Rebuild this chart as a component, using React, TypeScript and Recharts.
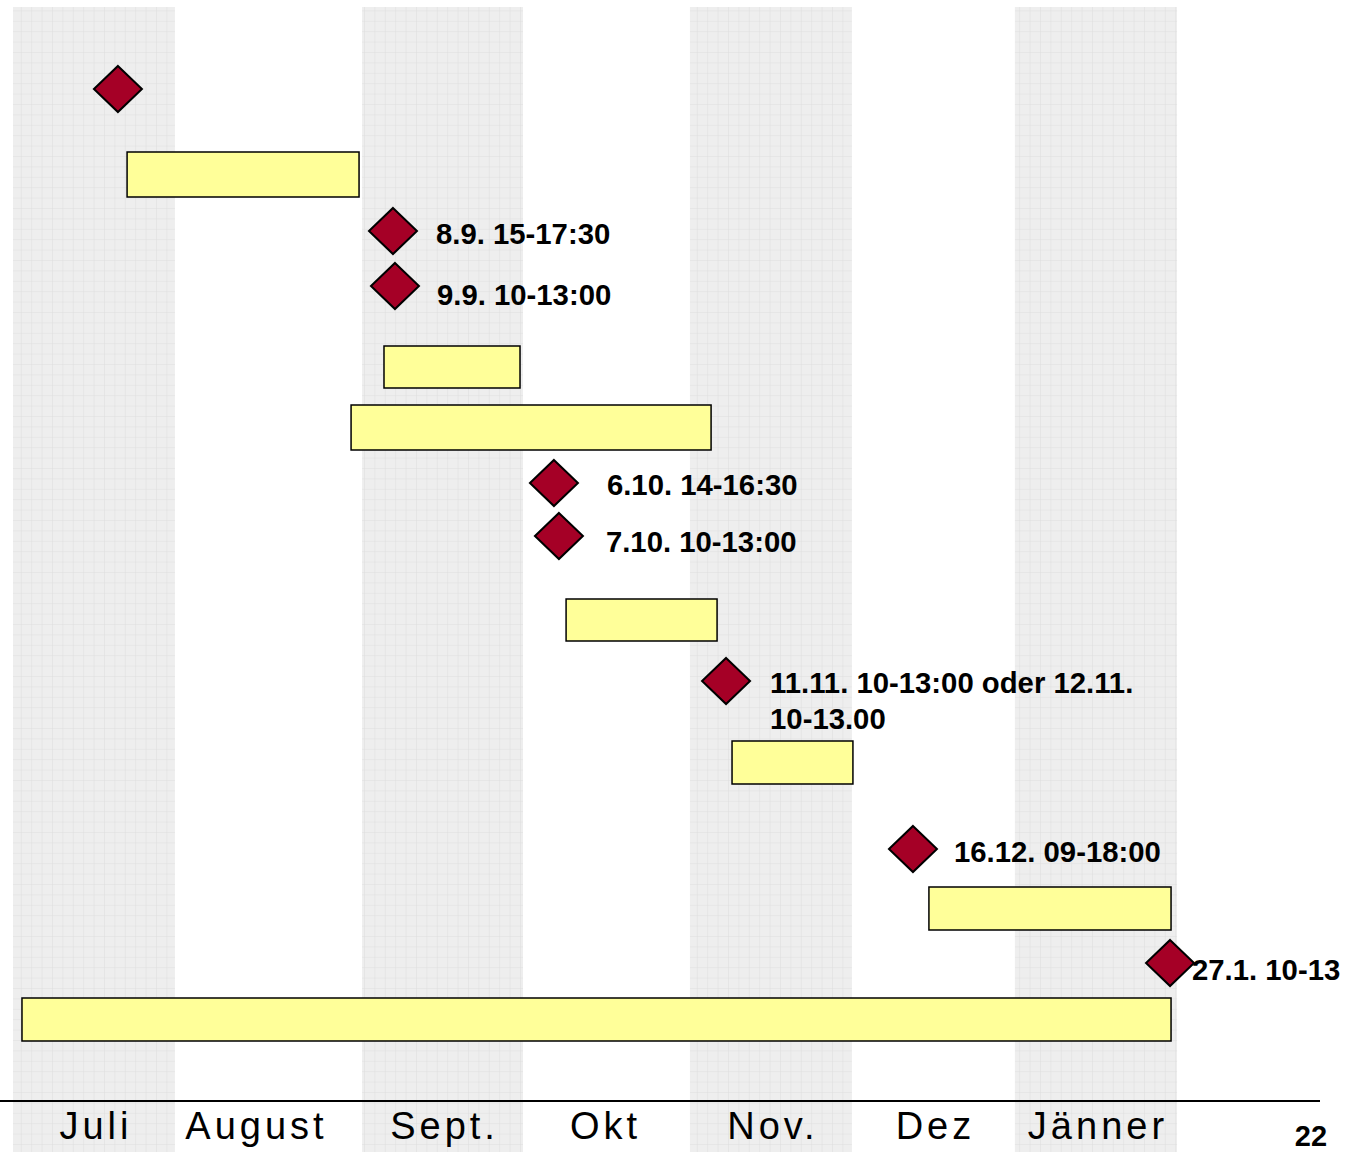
import React from "react";
import {
  ComposedChart,
  ReferenceArea,
  ReferenceLine,
  Scatter,
  XAxis,
  YAxis,
} from "recharts";

// timeline in month units (0 = start of Juli), rows on a 0..1152 track scale
const months = ["Juli", "August", "Sept.", "Okt", "Nov.", "Dez", "Jänner"];
const monthEdges = [0, 0.974, 2.099, 3.067, 4.071, 5.045, 6.025, 7.0];
const shadedMonths = [0, 2, 4, 6];

const taskStart = [0.686, 2.231, 2.033, 3.326, 4.324, 5.508, 0.054];
const taskEnd = [2.081, 3.049, 4.198, 4.234, 5.051, 6.964, 6.964];
const taskTop = [152, 346, 405, 599, 741, 887, 998];
const taskBottom = [197, 388, 450, 641, 784, 930, 1041];

const milestoneAt = [0.631, 2.285, 2.297, 3.253, 3.283, 4.288, 5.412, 6.958];
const milestoneRow = [89, 231, 286, 483, 536, 681, 849, 963];
const milestoneText = [
  [],
  ["8.9. 15-17:30"],
  ["9.9. 10-13:00"],
  ["6.10. 14-16:30"],
  ["7.10. 10-13:00"],
  ["11.11. 10-13:00 oder 12.11.", "10-13.00"],
  ["16.12. 09-18:00"],
  ["27.1. 10-13"],
];
// label placement relative to the diamond / month band (px)
const labelDx = [0, 43, 42, 53, 47, 44, 41, 22];
const labelDy = [0, 2, 8, 1, 5, 1, 2, 6];
const monthLabelDx = [0, -14, 0, -3, 0, 0, 0];

const PX_PER_MONTH = 166.29;
const X_MIN = -13 / PX_PER_MONTH;
const X_MAX = 1348 / PX_PER_MONTH;

const milestones = milestoneAt.map((x, i) => ({
  x,
  y: milestoneRow[i],
  lines: milestoneText[i],
  dx: labelDx[i],
  dy: labelDy[i],
}));

const monthLabels = months.map((name, i) => ({
  x: (monthEdges[i] + monthEdges[i + 1]) / 2,
  y: 1139,
  name,
  dx: monthLabelDx[i],
}));

const Diamond = (props: any) => {
  const { cx, cy, payload } = props;
  const w = 24;
  const h = 23;
  return (
    <g>
      <polygon
        points={`${cx},${cy - h} ${cx + w},${cy} ${cx},${cy + h} ${cx - w},${cy}`}
        fill="#a50026"
        stroke="#000"
        strokeWidth={2}
      />
      {payload.lines.map((line: string, j: number) => (
        <text
          key={j}
          x={cx + payload.dx}
          y={cy + payload.dy + 10.5 + j * 36}
          fontFamily="'Liberation Sans', Arial, sans-serif"
          fontWeight={700}
          fontSize={29.3}
          fill="#000"
        >
          {line}
        </text>
      ))}
    </g>
  );
};

const MonthLabel = (props: any) => {
  const { cx, cy, payload } = props;
  return (
    <text
      x={cx + payload.dx + 2}
      y={cy}
      textAnchor="middle"
      fontFamily="'Liberation Sans', Arial, sans-serif"
      fontSize={38}
      letterSpacing={4}
      fill="#000"
    >
      {payload.name}
    </text>
  );
};

export default function App() {
  return (
    <div style={{ position: "absolute", left: 0, top: 0, width: 1361, height: 1152, background: "#fff" }}>
      <svg width={0} height={0} style={{ position: "absolute" }}>
        <defs>
          <pattern id="monthGrid" width={10.4} height={10.4} patternUnits="userSpaceOnUse">
            <rect width={10.4} height={10.4} fill="#eeeeee" />
            <path d="M 10.4 0 L 0 0 0 10.4" fill="none" stroke="#dedede" strokeWidth={1} />
          </pattern>
        </defs>
      </svg>
      <ComposedChart width={1361} height={1152} margin={{ top: 0, right: 0, bottom: 0, left: 0 }}>
        <XAxis type="number" dataKey="x" domain={[X_MIN, X_MAX]} allowDataOverflow hide />
        <YAxis type="number" dataKey="y" domain={[0, 1152]} reversed allowDataOverflow hide />
        {shadedMonths.map((m) => (
          <ReferenceArea
            key={`m${m}`}
            x1={monthEdges[m]}
            x2={monthEdges[m + 1]}
            y1={7}
            y2={1152}
            fill="url(#monthGrid)"
            fillOpacity={1}
            stroke="none"
          />
        ))}
        <ReferenceLine
          segment={[
            { x: X_MIN, y: 1101 },
            { x: 1307 / PX_PER_MONTH, y: 1101 },
          ]}
          stroke="#000"
          strokeWidth={2}
        />
        {taskStart.map((s, i) => (
          <ReferenceArea
            key={`t${i}`}
            x1={s}
            x2={taskEnd[i]}
            y1={taskTop[i]}
            y2={taskBottom[i]}
            fill="#ffff99"
            fillOpacity={1}
            stroke="#000"
            strokeWidth={1.5}
          />
        ))}
        <Scatter data={milestones} dataKey="y" shape={Diamond} isAnimationActive={false} />
        <Scatter data={monthLabels} dataKey="y" shape={MonthLabel} isAnimationActive={false} />
      </ComposedChart>
      <svg width={1361} height={1152} style={{ position: "absolute", left: 0, top: 0, pointerEvents: "none" }}>
        <text
          x={1311}
          y={1146}
          textAnchor="middle"
          fontFamily="'Liberation Sans', Arial, sans-serif"
          fontWeight={700}
          fontSize={29}
          fill="#000"
        >
          22
        </text>
      </svg>
    </div>
  );
}
